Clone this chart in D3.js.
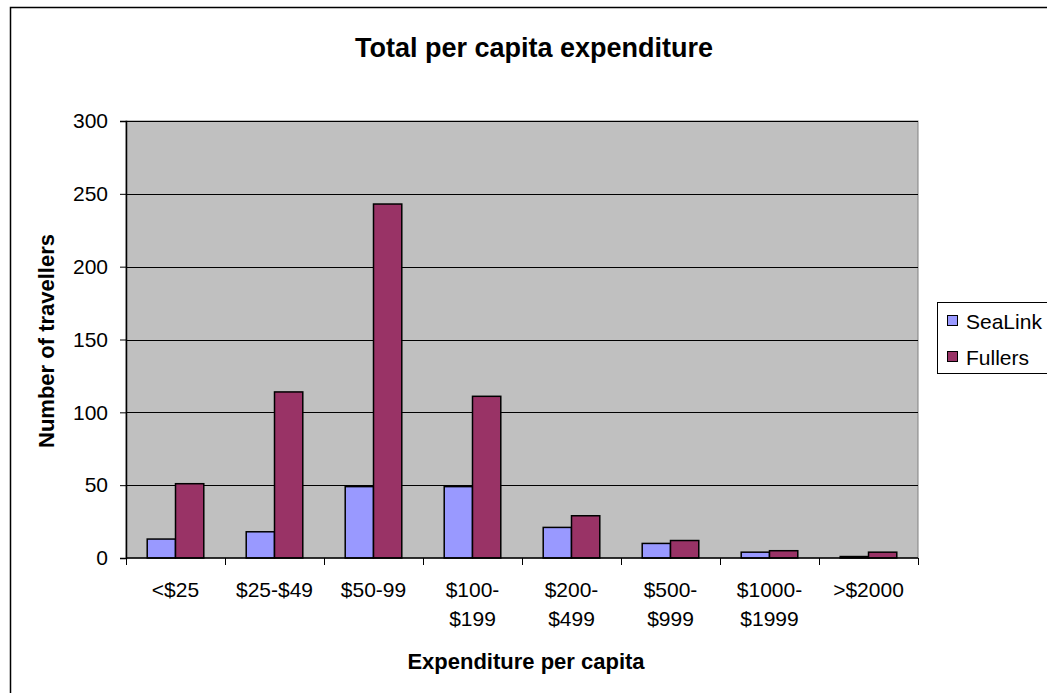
<!DOCTYPE html>
<html>
<head>
<meta charset="utf-8">
<script src="https://cdn.jsdelivr.net/npm/d3@7"></script>
<style>
  html, body { margin: 0; padding: 0; background: #fff; }
  svg { display: block; font-family: "Liberation Sans", Arial, sans-serif; }
</style>
</head>
<body>
<svg id="chart" width="1047" height="693"></svg>
<script>
// ---- data ----
const categories = ["<$25", "$25-$49", "$50-99", "$100-$199", "$200-$499", "$500-$999", "$1000-$1999", ">$2000"];
const categoryLabelLines = [["<$25"], ["$25-$49"], ["$50-99"], ["$100-", "$199"], ["$200-", "$499"], ["$500-", "$999"], ["$1000-", "$1999"], [">$2000"]];
const seriesNames = ["SeaLink", "Fullers"];
const sealink = [13, 18, 49, 49, 21, 10, 4, 1];
const fullers = [51, 114, 243, 111, 29, 12, 5, 4];
const yTicks = [0, 50, 100, 150, 200, 250, 300];
const seriesColors = ["#9999FF", "#993366"];

const title = "Total per capita expenditure";
const xTitle = "Expenditure per capita";
const yTitle = "Number of travellers";

// ---- layout ----
const svg = d3.select("#chart");
const plot = { left: 126, right: 918, top: 121, bottom: 558 };

// outer chart frame
svg.append("rect")
  .attr("x", 10.5).attr("y", 7.5)
  .attr("width", 1200).attr("height", 900)
  .attr("fill", "#fff").attr("stroke", "#000").attr("stroke-width", 1.5);

const x0 = d3.scaleBand().domain(categories).range([plot.left, plot.right]).padding(0);
const x1 = d3.scaleBand().domain(seriesNames).range([0, x0.bandwidth()]).paddingInner(0).paddingOuter(0.75);
const y = d3.scaleLinear().domain([0, 300]).range([plot.bottom, plot.top]);
const color = d3.scaleOrdinal().domain(seriesNames).range(seriesColors);

// plot background
svg.append("rect")
  .attr("x", plot.left).attr("y", plot.top)
  .attr("width", plot.right - plot.left).attr("height", plot.bottom - plot.top)
  .attr("fill", "#C0C0C0").attr("stroke", "#808080").attr("stroke-width", 1);

// gridlines
svg.append("g")
  .selectAll("line")
  .data(yTicks.filter(d => d > 0))
  .join("line")
  .attr("x1", plot.left).attr("x2", plot.right)
  .attr("y1", d => Math.round(y(d)) + 0.5).attr("y2", d => Math.round(y(d)) + 0.5)
  .attr("stroke", "#000").attr("stroke-width", 1);

// bars
const rows = categories.map((c, i) => ({ cat: c, values: [
  { key: "SeaLink", value: sealink[i] },
  { key: "Fullers", value: fullers[i] }
]}));

svg.append("g")
  .selectAll("g")
  .data(rows)
  .join("g")
  .attr("transform", d => `translate(${x0(d.cat)},0)`)
  .selectAll("rect")
  .data(d => d.values)
  .join("rect")
  .attr("x", d => x1(d.key))
  .attr("y", d => y(d.value))
  .attr("width", x1.bandwidth())
  .attr("height", d => y(0) - y(d.value))
  .attr("fill", d => color(d.key))
  .attr("stroke", "#000")
  .attr("stroke-width", 1.5);

// y axis
const yAxis = d3.axisLeft(y).tickValues(yTicks).tickSize(6).tickPadding(12);
const gy = svg.append("g").attr("transform", `translate(${plot.left},0)`).call(yAxis);
gy.select(".domain").attr("stroke", "#000").attr("stroke-width", 1.5);
gy.selectAll(".tick line").attr("stroke", "#000");
gy.selectAll(".tick text")
  .attr("font-size", 21).attr("fill", "#000")
  .attr("font-family", "'Liberation Sans', Arial, sans-serif");

// x axis (ticks at category boundaries)
const gx = svg.append("g").attr("transform", `translate(0,${plot.bottom})`);
gx.append("line")
  .attr("x1", plot.left).attr("x2", plot.right)
  .attr("y1", 0).attr("y2", 0)
  .attr("stroke", "#000").attr("stroke-width", 1.5);
const boundaries = categories.map(c => x0(c)).concat([plot.right]);
gx.selectAll(".xtick")
  .data(boundaries)
  .join("line")
  .attr("class", "xtick")
  .attr("x1", d => Math.round(d) + 0.5).attr("x2", d => Math.round(d) + 0.5)
  .attr("y1", 0).attr("y2", 7)
  .attr("stroke", "#000");

const xLabels = svg.append("g");
categories.forEach((c, i) => {
  const t = xLabels.append("text")
    .attr("x", x0(c) + x0.bandwidth() / 2)
    .attr("y", 597)
    .attr("text-anchor", "middle")
    .attr("font-size", 21)
    .attr("fill", "#000");
  categoryLabelLines[i].forEach((line, j) => {
    t.append("tspan")
      .attr("x", x0(c) + x0.bandwidth() / 2)
      .attr("dy", j === 0 ? 0 : 29)
      .text(line);
  });
});

// titles
svg.append("text")
  .attr("x", 534).attr("y", 57)
  .attr("text-anchor", "middle")
  .attr("font-size", 27).attr("font-weight", "bold")
  .text(title);

svg.append("text")
  .attr("x", 526).attr("y", 669)
  .attr("text-anchor", "middle")
  .attr("font-size", 22).attr("font-weight", "bold")
  .text(xTitle);

svg.append("text")
  .attr("transform", "translate(54,341) rotate(-90)")
  .attr("text-anchor", "middle")
  .attr("font-size", 22).attr("font-weight", "bold")
  .text(yTitle);

// legend
const legend = svg.append("g");
legend.append("rect")
  .attr("x", 937.5).attr("y", 302.5)
  .attr("width", 140).attr("height", 71)
  .attr("fill", "#fff").attr("stroke", "#000").attr("stroke-width", 1);
const legendRows = [321, 357];
seriesNames.forEach((s, i) => {
  legend.append("rect")
    .attr("x", 947.5).attr("y", legendRows[i] - 5.5)
    .attr("width", 10).attr("height", 10)
    .attr("fill", color(s)).attr("stroke", "#000").attr("stroke-width", 1);
  legend.append("text")
    .attr("x", 966).attr("y", legendRows[i] + 7.5)
    .attr("font-size", 21)
    .text(s);
});
</script>
</body>
</html>
